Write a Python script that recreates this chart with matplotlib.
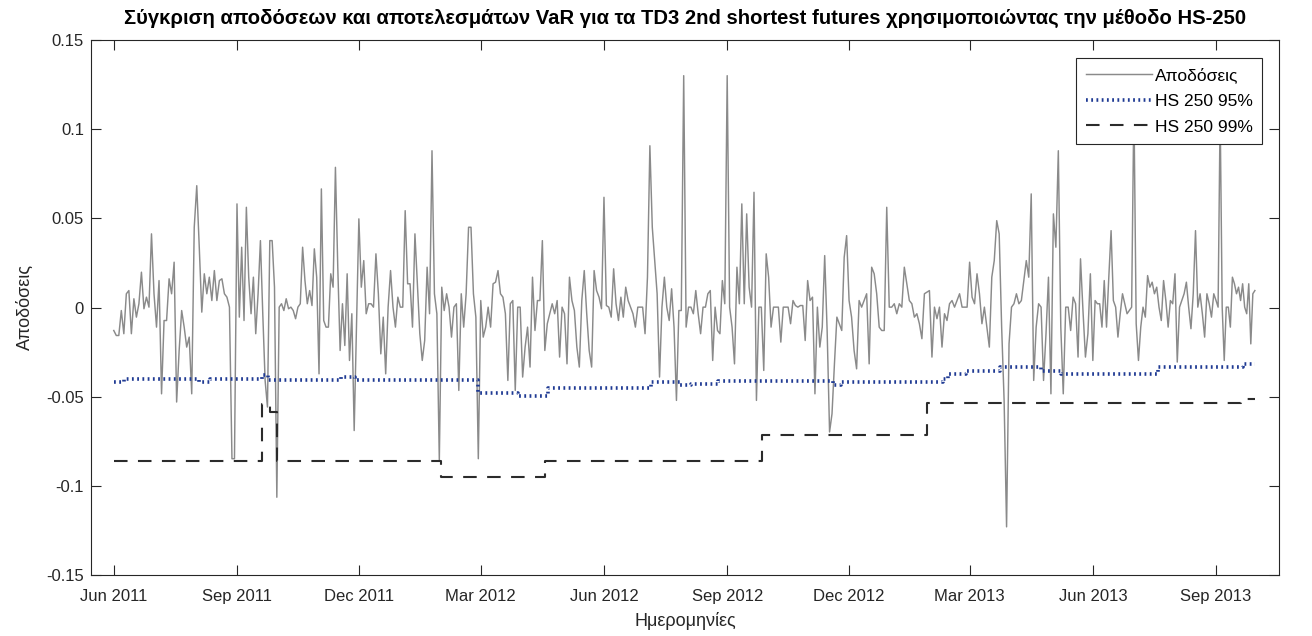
import numpy as np
import pandas as pd
import matplotlib
matplotlib.use("Agg")
import matplotlib.pyplot as plt
import matplotlib.dates as mdates

# ---------------- data ----------------
segment_bounds = ["2011-06-01", "2011-09-01", "2011-12-01", "2012-03-01", "2012-06-01",
                  "2012-09-01", "2012-12-01", "2013-03-01", "2013-06-01", "2013-09-01",
                  "2013-09-30"]

ret_2011_jun_aug = [-0.0129, -0.0157, -0.0157, -0.0017, -0.0147, 0.0077, 0.0095, -0.0147, 0.0049,
                    -0.0054, 0.0021, 0.0198, -0.0007, 0.0058, 0.0002, 0.0413, 0.0077, -0.011,
                    0.0151, -0.0484, -0.0073, -0.0073, 0.0161, 0.0077, 0.0254, -0.053, -0.0241,
                    -0.0017, -0.011, -0.0222, -0.0166, -0.0484, 0.045, 0.0683, 0.0338, -0.0026,
                    0.0189, 0.0077, 0.017, 0.0039, 0.0207, 0.0039, 0.0151, 0.0161, 0.0077,
                    0.0058, 0.0002, -0.0848, -0.0848]
ret_2011_sep_nov = [0.0581, -0.0054, 0.0338, -0.0073, 0.0562, 0.017, -0.0035, 0.017, -0.0147,
                    0.0077, 0.0375, -0.0035, -0.0409, -0.0558, 0.0375, 0.0375, 0.0114, -0.1064,
                    0.0002, 0.0021, -0.0017, 0.0049, -0.0007, 0.0002, -0.0017, -0.0063, 0.0002,
                    0.0021, 0.0338, 0.0151, 0.0021, 0.0095, 0.0011, 0.0329, 0.017, -0.0372,
                    0.0665, -0.0073, -0.011, -0.011, 0.0189, 0.0114, 0.0786, 0.0226, -0.0241,
                    0.0021, -0.0213, 0.0189, -0.0297, -0.0035, -0.069, -0.011]
ret_2011_dec_feb = [0.0497, 0.0114, 0.0263, -0.0035, 0.0021, 0.0021, 0.0002, 0.0301, 0.0077,
                    -0.026, -0.0054, -0.0372, 0.0002, 0.0207, 0.0002, -0.011, 0.0058, 0.0002,
                    0.0002, 0.0543, 0.0133, 0.0133, -0.011, 0.0413, 0.0133, -0.0147, -0.0297,
                    -0.0185, 0.0226, -0.0035, 0.0879, 0.0077, -0.0035, -0.0857, 0.0114, -0.0017,
                    0.0077, 0.0002, -0.0166, 0.0002, 0.0021, -0.0465, 0.0077, -0.011, 0.0077,
                    0.045, 0.045, 0.0077, -0.0054, -0.0848]
ret_2012_mar_may = [0.0039, -0.0166, -0.011, 0.0002, -0.011, 0.0133, 0.0142, 0.0207, 0.0077,
                    0.0058, -0.0035, -0.0409, 0.0021, 0.0039, -0.0465, 0.0002, 0.0002, -0.039,
                    -0.0222, -0.011, -0.0334, 0.017, -0.0129, 0.0039, 0.0039, 0.0375, -0.0241,
                    -0.0091, -0.0035, 0.0021, -0.0035, 0.0039, -0.0278, 0.0002, -0.0035, -0.0316,
                    0.017, 0.0039, -0.0017, -0.0222, -0.0334, 0.0039, 0.0207, -0.0035, -0.0241,
                    -0.0334, 0.0207, 0.0095, 0.0058, -0.0007]
ret_2012_jun_aug = [0.0618, 0.0011, 0.0002, -0.0054, 0.0217, 0.0021, -0.0073, 0.0058, -0.0054,
                    0.0114, 0.0039, 0.0002, -0.0035, -0.011, 0.0002, 0.0002, 0.0002, -0.0147,
                    0.017, 0.0907, 0.045, 0.0263, 0.0077, -0.039, 0.0002, 0.017, 0.0002, -0.0073,
                    0.0105, -0.011, -0.0521, -0.0017, -0.0017, 0.130, -0.011, 0.0002, 0.0002,
                    -0.0035, 0.0095, -0.0035, -0.0147, 0.0002, 0.0002, 0.0077, 0.0095, -0.0297,
                    0.0002, -0.0129, -0.0147, 0.0151, 0.0021]
ret_2012_sep_nov = [0.130, 0.0002, -0.011, -0.0316, 0.0226, 0.0021, 0.0581, 0.0021, 0.0525,
                    0.0114, 0.0002, 0.0646, -0.0521, 0.0002, 0.0002, -0.0353, 0.0301, 0.017,
                    -0.011, 0.0002, 0.0002, 0.0002, -0.0194, 0.0002, 0.0002, 0.0002, -0.0091,
                    0.0039, 0.0011, 0.0002, 0.0011, 0.0011, -0.0185, 0.0151, 0.0039, 0.0058,
                    -0.0484, 0.0002, -0.0222, -0.011, 0.0291, -0.0129, -0.0698, -0.0596, -0.0316,
                    -0.0054, -0.0091, -0.0129, 0.0282, 0.0403]
ret_2012_dec_feb = [0.0039, -0.0054, -0.0241, -0.0344, 0.0039, 0.0002, 0.0039, 0.0077, -0.0316,
                    0.0226, 0.0189, 0.0077, -0.011, -0.0129, -0.0129, 0.0562, 0.0002, 0.0002,
                    0.0021, -0.0035, 0.0021, 0.0002, 0.0226, 0.0133, 0.0039, 0.0021, -0.0054,
                    -0.0035, -0.0091, -0.0175, 0.0077, 0.0086, 0.0095, -0.0278, 0.0002, -0.0063,
                    0.0002, -0.0222, -0.0035, -0.0073, 0.0021, 0.0039, 0.0002, 0.0039, 0.0077,
                    0.0002, 0.0002, 0.0002]
ret_2013_mar_may = [0.0254, 0.0058, 0.0021, 0.0189, 0.0077, -0.0091, 0.0002, -0.011, -0.0222,
                    0.017, 0.0263, 0.0487, 0.0413, -0.011, -0.0521, -0.123, -0.0204, 0.0002,
                    0.0021, 0.0077, 0.0021, 0.0039, 0.0151, 0.0263, 0.017, 0.0637, -0.0409,
                    -0.011, 0.0021, 0.0002, -0.0409, -0.0147, 0.017, -0.0484, 0.0525, 0.0338,
                    0.0879, -0.011, -0.0484, 0.0002, 0.0002, -0.0129, 0.0058, 0.0021, -0.0278,
                    0.0273, -0.0017, -0.0278, -0.0147, 0.0189]
ret_2013_jun_aug = [-0.0297, 0.0039, 0.0021, 0.0021, -0.011, 0.0151, -0.011, 0.017, 0.0431,
                    0.0039, 0.0002, -0.0166, -0.0035, 0.0077, 0.0021, -0.0035, -0.0017, 0.0002,
                    0.115, -0.0091, -0.0297, -0.011, 0.0002, -0.0054, 0.0179, 0.0114, 0.0142,
                    0.0077, 0.0114, 0.0002, -0.0073, 0.0151, 0.0039, -0.011, 0.0039, 0.0021,
                    0.0189, -0.0306, 0.0002, 0.0039, 0.0077, 0.0142, 0.0002, -0.0119, 0.0077,
                    0.0431, 0.0002, 0.0077, -0.0035, -0.0166, 0.0077, 0.0021, -0.0054, 0.0077]
ret_2013_sep = [0.0039, 0.0002, 0.110, 0.0002, -0.0297, 0.0002, 0.0002, -0.011, 0.017, 0.0133,
                0.0077, 0.0114, 0.0039, 0.0133, 0.0002, -0.0035, 0.0133, -0.0204, 0.0077, 0.0095]

returns_segments = [ret_2011_jun_aug, ret_2011_sep_nov, ret_2011_dec_feb, ret_2012_mar_may,
                    ret_2012_jun_aug, ret_2012_sep_nov, ret_2012_dec_feb, ret_2013_mar_may,
                    ret_2013_jun_aug, ret_2013_sep]

var95_dates = ["2011-06-01", "2011-06-09", "2011-08-04", "2011-08-12", "2011-09-20", "2011-09-24",
               "2011-11-18", "2011-11-28", "2012-02-28", "2012-03-29", "2012-04-20", "2012-07-06",
               "2012-07-28", "2012-08-05", "2012-08-25", "2012-11-19", "2012-11-25", "2013-02-09",
               "2013-02-13", "2013-02-26", "2013-03-24", "2013-04-23", "2013-05-08", "2013-07-20",
               "2013-09-21", "2013-09-30"]
var95_values = [-0.042, -0.040, -0.042, -0.040, -0.038, -0.0405, -0.039, -0.0405, -0.048, -0.0495,
                -0.045, -0.042, -0.0435, -0.043, -0.041, -0.0435, -0.042, -0.040, -0.0373, -0.0355,
                -0.0335, -0.0355, -0.0373, -0.0335, -0.0318, -0.0318]

var99_dates = ["2011-06-01", "2011-09-20", "2011-09-26", "2011-10-01", "2012-01-31", "2012-04-18",
               "2012-09-27", "2013-01-28", "2013-09-20", "2013-09-30"]
var99_values = [-0.086, -0.054, -0.0585, -0.086, -0.095, -0.086, -0.0715, -0.0537, -0.0515, -0.0515]

title_text = "Σύγκριση αποδόσεων και αποτελεσμάτων VaR για τα TD3 2nd shortest futures χρησιμοποιώντας την μέθοδο HS-250"
legend_labels = ["Αποδόσεις", "HS 250 95%", "HS 250 99%"]
y_label = "Αποδόσεις"
x_label = "Ημερομηνίες"

# ---------------- build series ----------------
ret_dates = []
ret_vals = []
n_seg = len(returns_segments)
for i, vals in enumerate(returns_segments):
    last = (i == n_seg - 1)
    rng = pd.date_range(segment_bounds[i], segment_bounds[i + 1],
                        periods=len(vals) + (0 if last else 1))
    if not last:
        rng = rng[:-1]
    ret_dates.extend(list(rng))
    ret_vals.extend(vals)

v95_d = pd.to_datetime(var95_dates)
v99_d = pd.to_datetime(var99_dates)

# ---------------- plot ----------------
plt.rcParams["font.family"] = ["Liberation Sans", "DejaVu Sans"]
W, H = 1312, 636
fig = plt.figure(figsize=(W / 100, H / 100), dpi=100)
ax_l, ax_r, ax_t, ax_b = 91, 1279, 40, 575
ax = fig.add_axes([ax_l / W, 1 - ax_b / H, (ax_r - ax_l) / W, (ax_b - ax_t) / H])

ax.plot(ret_dates, ret_vals, color="#8a8a8a", lw=1.05, label=legend_labels[0], zorder=2)
ax.step(v95_d, var95_values, where="post", color="#1f3a93", lw=2.6,
        linestyle=(0, (0.5, 0.95)), dash_capstyle="butt", label=legend_labels[1], zorder=3)
ax.step(v99_d, var99_values, where="post", color="#2b2b2b", lw=1.5,
        linestyle=(0, (6.5, 5)), label=legend_labels[2], zorder=3)

ax.set_ylim(-0.15, 0.15)
ax.set_yticks([-0.15, -0.1, -0.05, 0, 0.05, 0.1, 0.15])
ax.set_yticklabels(["-0.15", "-0.1", "-0.05", "0", "0.05", "0.1", "0.15"])
ax.set_xlim(pd.Timestamp("2011-05-15"), pd.Timestamp("2013-10-18"))
ax.xaxis.set_major_locator(mdates.MonthLocator(bymonth=[3, 6, 9, 12]))
ax.xaxis.set_major_formatter(mdates.DateFormatter("%b %Y"))

axis_col = "#262626"
for s in ax.spines.values():
    s.set_color(axis_col)
    s.set_linewidth(0.8)
ax.tick_params(direction="in", length=7, width=0.8, color=axis_col, labelcolor=axis_col,
               labelsize=12, top=True, right=True)
ax.tick_params(axis="x", pad=10)
ax.tick_params(axis="y", pad=5)

ax.set_ylabel(y_label, fontsize=13, color=axis_col, labelpad=9)
ax.set_xlabel(x_label, fontsize=13, color=axis_col, labelpad=6)
fig.text((ax_l + ax_r) / 2 / W, 1 - 18 / H, title_text, ha="center", va="center",
         fontsize=14.6, fontweight="bold", family=["Liberation Sans", "DejaVu Sans"])

leg = ax.legend(loc="upper right",
                bbox_to_anchor=((1262 - ax_l) / (ax_r - ax_l), (ax_b - 58) / (ax_b - ax_t)),
                borderaxespad=0, fancybox=False, framealpha=1, edgecolor=axis_col,
                fontsize=12.5, handlelength=3.8, handletextpad=0.15, labelspacing=0.6,
                borderpad=0.55)
leg.get_frame().set_linewidth(0.8)
leg.set_zorder(5)

fig.savefig("out.png", dpi=100, facecolor="white")
